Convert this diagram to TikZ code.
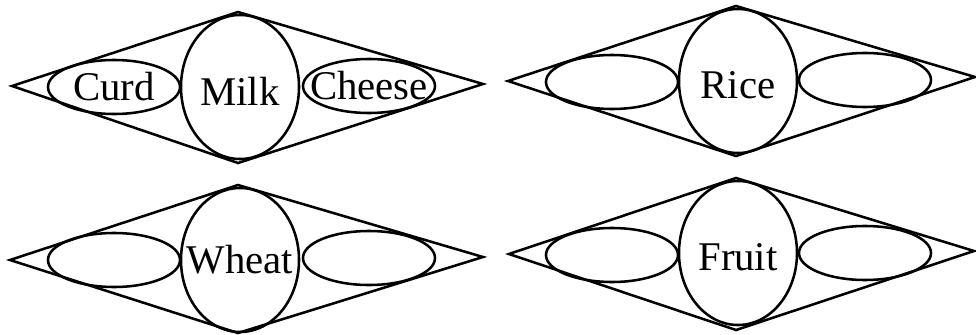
\documentclass[tikz,border=0pt]{standalone}
\usepackage{fontspec}
\setmainfont{Liberation Serif}
\usetikzlibrary{shapes.geometric}

\begin{document}
\begin{tikzpicture}[x=0.025cm,y=-0.025cm,
  rim/.style={line width=1.8pt,line join=miter},
  bigoval/.style={ellipse,draw,line width=1.8pt,inner sep=0pt,minimum width=2.95cm,minimum height=3.6cm},
  smalloval/.style={ellipse,draw,line width=1.8pt,inner sep=0pt,minimum width=3.3cm,minimum height=1.35cm},
  word/.style={font=\fontsize{29}{31}\selectfont,inner sep=0pt}]
\useasboundingbox (0,0) rectangle (976,335);

% dairy
\coordinate (mL) at (12,86);
\coordinate (mT) at (238,12);
\coordinate (mR) at (483,84);
\coordinate (mB) at (238,163);
\draw[rim] (mL) -- (mT) -- (mR) -- (mB) -- cycle;
\node[bigoval,label={[word,yshift=-0.1cm]center:Milk}] (milk) at (240,87) {};
\node[smalloval,label={[word]center:Curd}] (curd) at (114,87) {};
\node[smalloval,label={[word]center:Cheese}] (cheese) at (369,86) {};

% rice
\coordinate (rL) at (508,81);
\coordinate (rT) at (736,6);
\coordinate (rR) at (975,77);
\coordinate (rB) at (736,156);
\draw[rim] (rL) -- (rT) -- (rR) -- (rB) -- cycle;
\node[bigoval,label={[word,yshift=-0.1cm]center:Rice}] (rice) at (738,81) {};
\node[smalloval] (riceA) at (612,82) {};
\node[smalloval] (riceB) at (865,80) {};

% wheat
\coordinate (wL) at (10,260);
\coordinate (wT) at (238,185);
\coordinate (wR) at (483,257);
\coordinate (wB) at (238,333);
\draw[rim] (wL) -- (wT) -- (wR) -- (wB) -- cycle;
\node[bigoval,label={[word]center:Wheat}] (wheat) at (240,260) {};
\node[smalloval] (wheatA) at (114,260) {};
\node[smalloval] (wheatB) at (369,258) {};

% fruit
\coordinate (fL) at (509,254);
\coordinate (fT) at (736,178);
\coordinate (fR) at (974,251);
\coordinate (fB) at (736,330);
\draw[rim] (fL) -- (fT) -- (fR) -- (fB) -- cycle;
\node[bigoval,label={[word,yshift=-0.1cm]center:Fruit}] (fruit) at (738,253) {};
\node[smalloval] (fruitA) at (612,255) {};
\node[smalloval] (fruitB) at (865,253) {};

\end{tikzpicture}
\end{document}
